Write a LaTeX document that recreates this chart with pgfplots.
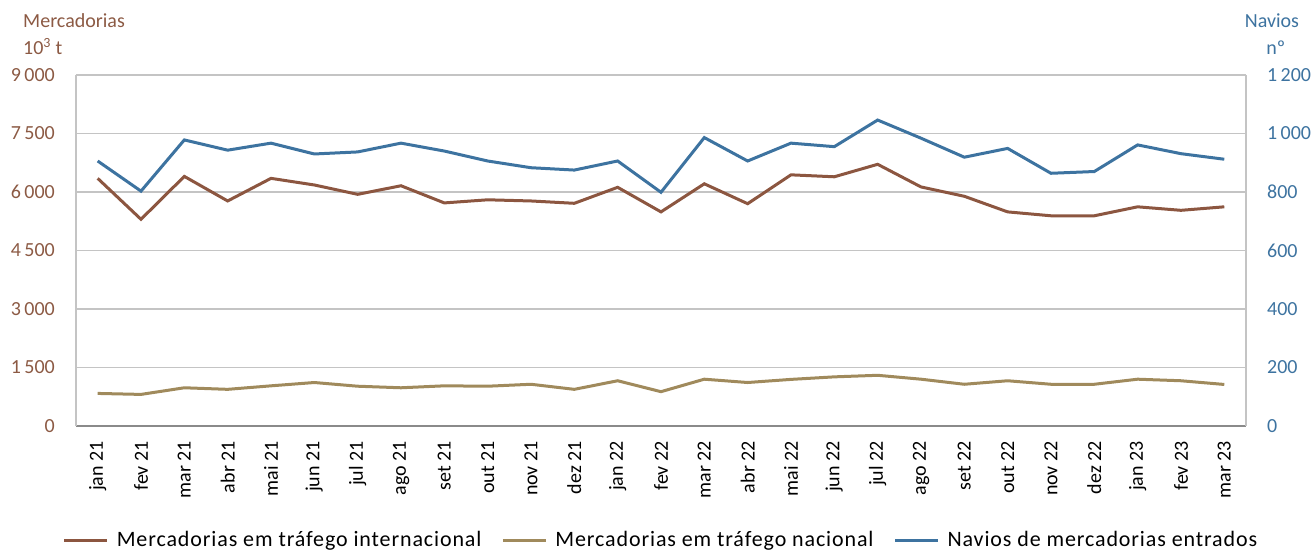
\documentclass[border=0pt]{standalone}
\usepackage{pgfplots}
\usepackage{pgfplotstable}
\pgfplotsset{compat=1.18}
\usepackage{fontspec}
\setmainfont{Carlito}
\newfontfamily\legfont[LetterSpace=4]{Carlito}

\definecolor{intcol}{HTML}{8C5640}
\definecolor{natcol}{HTML}{A08A5C}
\definecolor{navcol}{HTML}{3D73A0}
\definecolor{leftlab}{HTML}{8C5A44}
\definecolor{gridcol}{HTML}{C4C4C4}
\definecolor{basecol}{HTML}{8A8A8A}

\pgfplotstableread{
idx int nat nav
0  6350  835  906
1  5300  810  803
2  6400  980  978
3  5770  940  943
4  6350 1030  967
5  6180 1115  930
6  5940 1020  937
7  6160  980  967
8  5720 1030  940
9  5800 1020  906
10 5770 1070  883
11 5710  940  875
12 6120 1160  906
13 5490  880  799
14 6210 1200  986
15 5700 1115  906
16 6440 1195  967
17 6390 1260  955
18 6710 1300 1046
19 6130 1200  984
20 5890 1070  919
21 5490 1160  949
22 5390 1070  864
23 5390 1070  870
24 5620 1200  961
25 5530 1160  931
26 5620 1065  912
}\data

\newcommand{\fs}{\fontsize{20}{24}\selectfont}

\pgfplotsset{
  common/.style={
    scale only axis, width=1170pt, height=351pt,
    xmin=-0.5, xmax=26.5, xtick={0,...,26},
    major tick length=0pt,
    tick label style={font=\fs},
    /pgf/number format/.cd, 1000 sep={\,}, assume math mode=true,
  },
}

\begin{document}
\begin{tikzpicture}
\useasboundingbox (-76pt,-125pt) rectangle (1239pt,426pt);
\begin{axis}[
  common,
  clip=false,
  ymin=0, ymax=9000, ytick={0,1500,...,9000},
  ymajorgrids, grid style={gridcol, line width=1.2pt},
  axis x line*=bottom, axis y line*=left,
  x axis line style={basecol, line width=1.5pt, -},
  y axis line style={gridcol, line width=1.5pt, -},
  xticklabels={jan 21, fev 21, mar 21, abr 21, mai 21, jun 21, jul 21, ago 21, set 21, out 21, nov 21, dez 21, jan 22, fev 22, mar 22, abr 22, mai 22, jun 22, jul 22, ago 22, set 22, out 22, nov 22, dez 22, jan 23, fev 23, mar 23},
  xticklabel style={rotate=90, anchor=east, inner sep=0pt, black},
  xticklabel shift=15pt,
  yticklabel style={leftlab, inner sep=0pt},
  yticklabel shift=21pt,
]
\addplot[intcol, line width=3pt] table[x=idx, y=int] {\data};
\addplot[natcol, line width=3pt] table[x=idx, y=nat] {\data};
\node[anchor=base west, leftlab, inner sep=0pt, font=\fs, xshift=-53pt, yshift=47pt] at (rel axis cs:0,1) {Mercadorias};
\node[anchor=base west, leftlab, inner sep=0pt, font=\fs, xshift=-53pt, yshift=20pt] at (rel axis cs:0,1) {10\textsuperscript{3} t};
\end{axis}
\begin{axis}[
  common,
  clip=false,
  ymin=0, ymax=1200, ytick={0,200,...,1200},
  axis y line*=right, hide x axis,
  y axis line style={gridcol, line width=1.5pt, -},
  yticklabel style={navcol, inner sep=0pt},
  yticklabel shift=21pt,
  legend style={at={(0.5,-0.325)}, anchor=center, legend columns=-1,
    draw=none, fill=none, font=\legfont\fontsize{22}{26}\selectfont,
    /tikz/every even column/.append style={column sep=18pt}},
  legend image code/.code={\draw[#1] (0pt,0pt) -- (43pt,0pt); \path (49pt,0pt);},
]
\addlegendimage{intcol, line width=3pt}
\addlegendentry{Mercadorias em tráfego internacional}
\addlegendimage{natcol, line width=3pt}
\addlegendentry{Mercadorias em tráfego nacional}
\addplot[navcol, line width=3pt] table[x=idx, y=nav] {\data};
\addlegendentry{Navios de mercadorias entrados}
\node[anchor=base, navcol, inner sep=0pt, font=\fs, xshift=26pt, yshift=47pt] at (rel axis cs:1,1) {Navios};
\node[anchor=base, navcol, inner sep=0pt, font=\fs, xshift=30pt, yshift=20pt] at (rel axis cs:1,1) {nº};
\end{axis}
\end{tikzpicture}
\end{document}
